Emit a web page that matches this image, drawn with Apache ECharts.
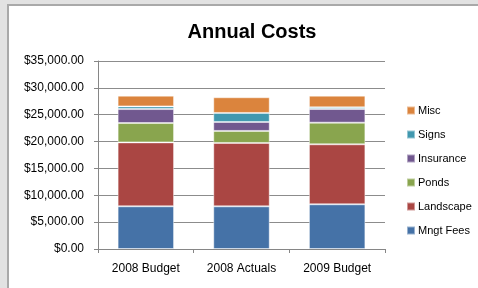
<!DOCTYPE html>
<html>
<head>
<meta charset="utf-8">
<script src="https://cdn.jsdelivr.net/npm/echarts@6/dist/echarts.min.js"></script>
<style>
  html, body { margin: 0; padding: 0; background: #e2e2e2; }
  .frame {
    position: absolute; left: 7px; top: 4px; width: 471px; height: 284px;
    background: #fff; border-left: 2px solid #a9a9a9; border-top: 2px solid #a9a9a9;
  }
  #chart { position: absolute; left: 0; top: 0; width: 478px; height: 288px; }
</style>
</head>
<body>
<div class="frame"></div>
<div id="chart"></div>
<script>
const categories = ['2008 Budget', '2008 Actuals', '2009 Budget']
const mngtFees = [7950, 7940, 8320]
const landscape = [11900, 11800, 11170]
const ponds = [3600, 2240, 4030]
const insurance = [2600, 1670, 2540]
const signs = [500, 1680, 310]
const misc = [2000, 2920, 2180]
const legendOrder = ['Misc', 'Signs', 'Insurance', 'Ponds', 'Landscape', 'Mngt Fees']

const font = 'Liberation Sans, Arial, sans-serif'

function seg(name, data, color) {
  return {
    name,
    type: 'bar',
    stack: 'total',
    data,
    barWidth: '59%',
    animation: false,
    itemStyle: {
      color,
      borderColor: 'rgba(255,255,255,0.45)',
      borderWidth: 1
    }
  }
}

const myChart = echarts.init(document.getElementById('chart'))
myChart.setOption({
  title: {
    text: 'Annual Costs',
    left: 247,
    textAlign: 'center',
    top: 17,
    textStyle: { fontFamily: font, fontSize: 20, fontWeight: 'bold', color: '#000' }
  },
  legend: {
    data: legendOrder,
    orient: 'vertical',
    left: 401,
    top: 99,
    itemWidth: 8,
    itemHeight: 8,
    itemGap: 11,
    icon: 'rect',
    textStyle: { fontFamily: font, fontSize: 11, color: '#000', lineHeight: 13, padding: [0, 0, 0, -2] }
  },
  grid: {
    left: 98,
    right: 93,
    top: 61,
    bottom: 39
  },
  xAxis: {
    type: 'category',
    data: categories,
    axisLine: { lineStyle: { color: '#868686', width: 1 } },
    axisTick: { show: true, length: 4, lineStyle: { color: '#868686' } },
    axisLabel: { fontFamily: font, fontSize: 12, color: '#000', margin: 14 }
  },
  yAxis: {
    type: 'value',
    min: 0,
    max: 35000,
    interval: 5000,
    axisLine: { show: true, lineStyle: { color: '#868686' } },
    axisTick: { show: true, length: 4, lineStyle: { color: '#868686' } },
    axisLabel: {
      fontFamily: font,
      fontSize: 12,
      color: '#000',
      margin: 14,
      formatter: v => '$' + v.toLocaleString('en-US', { minimumFractionDigits: 2 })
    },
    splitLine: { lineStyle: { color: '#8c8c8c', width: 1 } }
  },
  series: [
    seg('Mngt Fees', mngtFees, '#4572A7'),
    seg('Landscape', landscape, '#AA4643'),
    seg('Ponds', ponds, '#89A54E'),
    seg('Insurance', insurance, '#71588F'),
    seg('Signs', signs, '#4198AF'),
    seg('Misc', misc, '#DB843D')
  ]
})
</script>
</body>
</html>
